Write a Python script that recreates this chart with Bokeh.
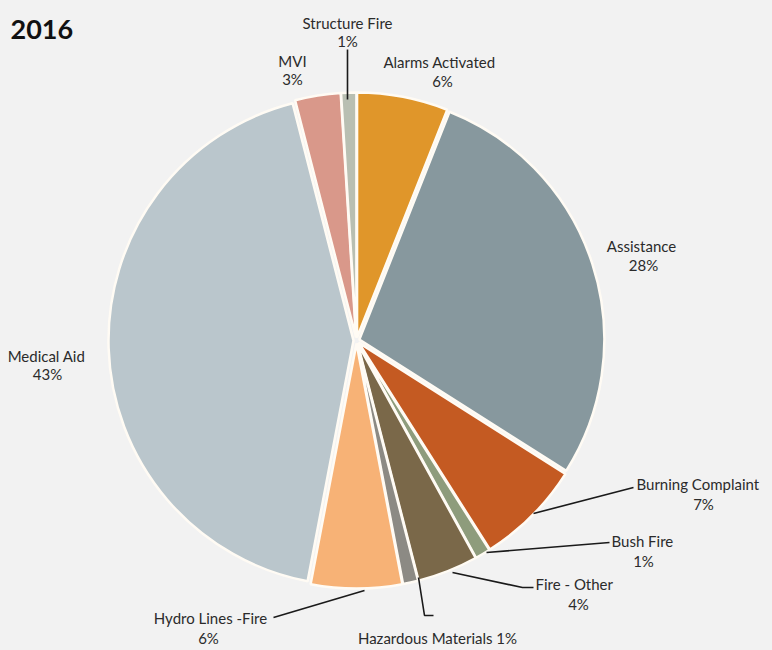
import math
from bokeh.plotting import figure
from bokeh.models import Range1d, ColumnDataSource
from bokeh.core.properties import value
from bokeh.embed import file_html
from bokeh.resources import INLINE

# ---- data ----
categories = ["Alarms Activated", "Assistance", "Burning Complaint", "Bush Fire",
              "Fire - Other", "Hazardous Materials", "Hydro Lines -Fire",
              "Medical Aid", "MVI", "Structure Fire"]
percent = [6, 28, 7, 1, 4, 1, 6, 43, 3, 1]
title_text = "2016"

# ---- style ----
colors = ["#E0962A", "#87989E", "#C45A22", "#8E9C7C", "#7A6849",
          "#8C8A84", "#F7B276", "#BAC6CC", "#D9988A", "#B9BFB2"]
BG = "#F2F2F2"
FONT = "Lato"
FS = "15px"
W, H = 772, 650


def Y(sy):
    return H - sy


cx, cy, R, EXPLODE = 356, Y(340), 245, 3

total = sum(percent)
starts, ends, xs, ys = [], [], [], []
cum = 0.0
for v in percent:
    a0 = cum / total * 2 * math.pi
    cum += v
    a1 = cum / total * 2 * math.pi
    mid = (a0 + a1) / 2
    starts.append(math.pi / 2 - a0)
    ends.append(math.pi / 2 - a1)
    xs.append(cx + EXPLODE * math.sin(mid))
    ys.append(cy + EXPLODE * math.cos(mid))

src = ColumnDataSource(dict(x=xs, y=ys, s=starts, e=ends, c=colors, name=categories))

p = figure(width=W, height=H, output_backend="svg", toolbar_location=None,
           x_range=Range1d(0, W), y_range=Range1d(0, H),
           min_border=0, outline_line_color=None)
p.axis.visible = False
p.grid.visible = False
p.background_fill_color = BG
p.border_fill_color = BG

p.wedge(x="x", y="y", radius=R, start_angle="s", end_angle="e", direction="clock",
        fill_color="c", line_color="#FFFBF4", line_width=2.5, source=src)

# ---- label layout (screen coords): name pos, pct pos ----
label_layout = {
    "Structure Fire": ((347, 22, "center"), (347, 40, "center")),
    "MVI": ((292, 60, "center"), (292, 78, "center")),
    "Alarms Activated": ((439, 61, "center"), (442, 80, "center")),
    "Assistance": ((641, 245, "center"), (643, 264, "center")),
    "Medical Aid": ((46, 355, "center"), (47, 373, "center")),
    "Burning Complaint": ((636, 483, "left"), (703, 503, "center")),
    "Bush Fire": ((611, 540, "left"), (643, 560, "center")),
    "Fire - Other": ((535, 583, "left"), (578, 603, "center")),
    "Hydro Lines -Fire": ((210, 617, "center"), (208, 637, "center")),
}
leaders = {
    "Structure Fire": [(347, 49), (347, 99)],
    "Burning Complaint": [(533, 513), (633, 487)],
    "Bush Fire": [(486, 552), (609, 542)],
    "Fire - Other": [(452, 572), (522, 587), (533, 587)],
    "Hazardous Materials": [(418, 577), (424, 615), (433, 615)],
    "Hydro Lines -Fire": [(273, 617), (364, 590)],
}

for name, pct in zip(categories, percent):
    if name in label_layout:
        (nx, ny, na), (px, py, pa) = label_layout[name]
        p.text(x=[nx], y=[Y(ny)], text=[name], text_align=na, text_baseline="middle",
               text_font=value(FONT), text_font_size=FS, text_color="#2B2B2B")
        p.text(x=[px], y=[Y(py)], text=[f"{pct}%"], text_align=pa, text_baseline="middle",
               text_font=value(FONT), text_font_size=FS, text_color="#2B2B2B")
    elif name == "Hazardous Materials":
        p.text(x=[437], y=[Y(637)], text=[f"{name} {pct}%"], text_align="center",
               text_baseline="middle", text_font=value(FONT), text_font_size=FS,
               text_color="#2B2B2B")
    if name in leaders:
        pts = leaders[name]
        p.line([q[0] for q in pts], [Y(q[1]) for q in pts], line_color="#1A1A1A",
               line_width=1.6)

p.text(x=[10], y=[Y(29)], text=[title_text], text_align="left", text_baseline="alphabetic",
       text_font=value(FONT), text_font_style="bold", text_font_size="27px",
       text_color="#111111")

html = file_html(p, INLINE)
html = html.replace("<head>", "<head><style>body{background:#f2f2f2;}</style>", 1)
open("out.html", "w").write(html)
